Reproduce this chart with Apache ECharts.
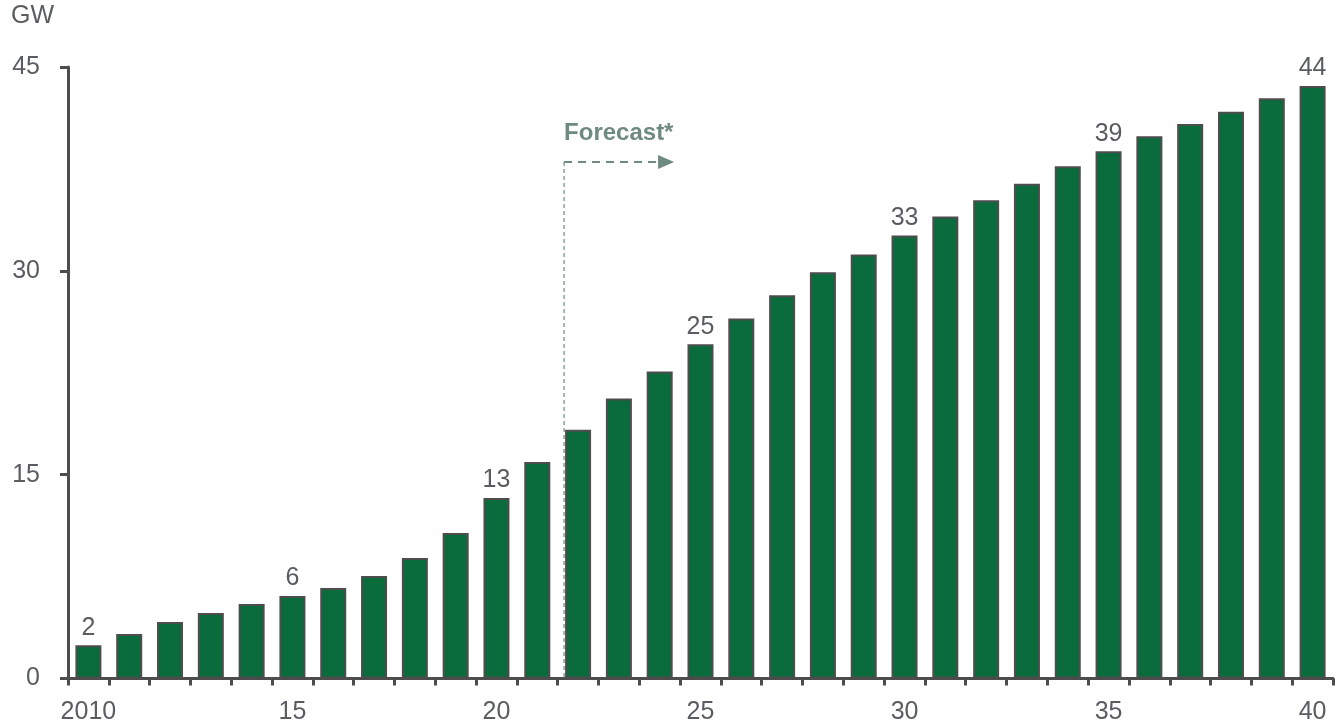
<!DOCTYPE html>
<html>
<head>
<meta charset="utf-8">
<script src="https://cdn.jsdelivr.net/npm/echarts@6/dist/echarts.min.js"></script>
<style>
html,body{margin:0;padding:0;background:#fff;}
#chart{width:1337px;height:728px;}
</style>
</head>
<body>
<div id="chart"></div>
<script>
const years = ['2010','2011','2012','2013','2014','2015','2016','2017','2018','2019','2020','2021','2022','2023','2024','2025','2026','2027','2028','2029','2030','2031','2032','2033','2034','2035','2036','2037','2038','2039','2040'];
const capacityGW = [2.45,3.28,4.16,4.82,5.49,6.08,6.66,7.55,8.87,10.71,13.29,15.94,18.3,20.6,22.6,24.6,26.5,28.2,29.9,31.2,32.6,34.0,35.2,36.4,37.7,38.8,39.9,40.8,41.7,42.7,43.6];
const xTickLabels = ['2010','15','20','25','30','35','40'];
const yTicks = [0,15,30,45];
const forecastStartYear = '2022';
const forecastLabel = 'Forecast*';
const forecastArrowLevel = 38; // GW level of forecast arrow
const unitLabel = 'GW';

const textColor = '#595c61';
const axisColor = '#4d4d4d';
const barColor = '#0a6b3c';
const fcColor = '#6f8a7e';
const FONT = '"Liberation Sans", Arial, sans-serif';
const FS = 25;
const BAR_W = 26;

const chart = echarts.init(document.getElementById('chart'));
const option = {
  animation: false,
  backgroundColor: '#ffffff',
  textStyle: { fontFamily: FONT },
  grid: { left: 68, right: 4, top: 67, bottom: 49.5, containLabel: false },
  xAxis: {
    type: 'category',
    data: years,
    boundaryGap: true,
    axisLine: { show: true, lineStyle: { color: axisColor, width: 3 } },
    axisTick: { show: true, interval: 0, length: 7, lineStyle: { color: axisColor, width: 3 } },
    axisLabel: {
      interval: 0,
      margin: 21,
      fontSize: FS,
      color: textColor,
      fontFamily: FONT,
      formatter: function (v, idx) {
        return idx % 5 === 0 ? xTickLabels[idx / 5] : '';
      }
    },
    splitLine: { show: false }
  },
  yAxis: {
    type: 'value',
    min: yTicks[0],
    max: yTicks[yTicks.length - 1],
    interval: yTicks[1] - yTicks[0],
    axisLine: { show: true, lineStyle: { color: axisColor, width: 3 } },
    axisTick: { show: true, length: 8, lineStyle: { color: axisColor, width: 3 } },
    axisLabel: { margin: 28, fontSize: FS, color: textColor, fontFamily: FONT },
    splitLine: { show: false }
  },
  series: [{
    type: 'bar',
    data: capacityGW,
    barWidth: BAR_W,
    itemStyle: { color: barColor, borderColor: axisColor, borderWidth: 2 },
    label: {
      show: true,
      position: 'top',
      distance: 5,
      fontSize: FS,
      color: textColor,
      fontFamily: FONT,
      formatter: function (p) {
        return p.dataIndex % 5 === 0 ? String(Math.round(p.value)) : '';
      }
    }
  }]
};
chart.setOption(option);

// forecast annotation positioned through the axes
const fx = chart.convertToPixel({ xAxisIndex: 0 }, forecastStartYear) - BAR_W / 2 - 1;
const fy = chart.convertToPixel({ yAxisIndex: 0 }, forecastArrowLevel);
const y0 = chart.convertToPixel({ yAxisIndex: 0 }, 0);
const arrowEnd = fx + 110;
chart.setOption({
  graphic: [
    {
      type: 'text', left: 11, top: 4,
      style: { text: unitLabel, fontSize: FS, fill: textColor, fontFamily: FONT }
    },
    {
      type: 'line', z: 100,
      shape: { x1: fx, y1: fy, x2: fx, y2: y0 },
      style: { stroke: fcColor, lineWidth: 1.2, lineDash: [4, 3] }
    },
    {
      type: 'line', z: 100,
      shape: { x1: fx, y1: fy, x2: arrowEnd - 14, y2: fy },
      style: { stroke: fcColor, lineWidth: 2, lineDash: [8, 6] }
    },
    {
      type: 'polygon', z: 100,
      shape: { points: [[arrowEnd - 16, fy - 7], [arrowEnd, fy], [arrowEnd - 16, fy + 7]] },
      style: { fill: fcColor }
    },
    {
      type: 'text', z: 100,
      x: fx, y: fy - 29,
      style: { text: forecastLabel, fontSize: 24, fontWeight: 'bold', fill: fcColor, fontFamily: FONT, textVerticalAlign: 'middle' }
    }
  ]
});
</script>
</body>
</html>
